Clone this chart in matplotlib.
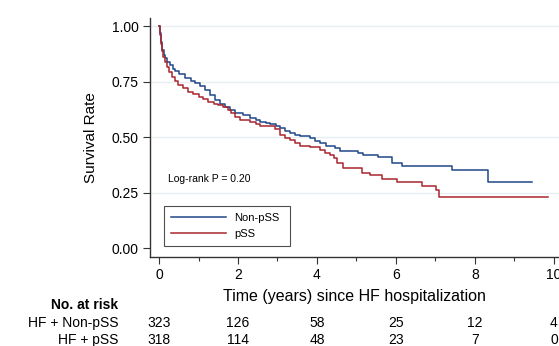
import matplotlib.pyplot as plt
from matplotlib.transforms import blended_transform_factory
from matplotlib.ticker import MultipleLocator

plt.rcParams['font.family'] = ['Liberation Sans', 'DejaVu Sans']

# Kaplan-Meier step data
t_non = [0, 0.025, 0.05, 0.08, 0.12, 0.15, 0.2, 0.28, 0.35, 0.405, 0.5, 0.66, 0.8, 0.91,
         1.05, 1.16, 1.3, 1.42, 1.55, 1.67, 1.8, 1.92, 2.13, 2.3, 2.45, 2.56, 2.7, 2.81,
         2.95, 3.06, 3.2, 3.32, 3.45, 3.57, 3.82, 3.95, 4.08, 4.24, 4.45, 4.58, 5.05, 5.17,
         5.55, 5.89, 6.14, 7.41, 8.34, 9.45]
s_non = [1.0, 0.97, 0.93, 0.894, 0.87, 0.856, 0.84, 0.826, 0.81, 0.80, 0.785, 0.766, 0.755, 0.746,
         0.73, 0.713, 0.69, 0.668, 0.65, 0.635, 0.623, 0.608, 0.60, 0.585, 0.578, 0.57, 0.563, 0.558,
         0.55, 0.54, 0.53, 0.52, 0.512, 0.506, 0.495, 0.485, 0.475, 0.462, 0.45, 0.44, 0.43, 0.42,
         0.41, 0.385, 0.37, 0.35, 0.30, 0.30]

t_pss = [0, 0.025, 0.05, 0.08, 0.11, 0.15, 0.19, 0.25, 0.32, 0.4, 0.49, 0.6, 0.74, 0.87,
         1.0, 1.12, 1.25, 1.38, 1.5, 1.62, 1.75, 1.83, 1.92, 2.05, 2.3, 2.45, 2.56, 2.94,
         3.06, 3.19, 3.32, 3.44, 3.57, 3.82, 4.08, 4.2, 4.33, 4.42, 4.5, 4.67, 5.13, 5.34,
         5.64, 6.02, 6.65, 7.01, 7.10, 9.84]
s_pss = [1.0, 0.96, 0.92, 0.89, 0.864, 0.84, 0.818, 0.795, 0.773, 0.755, 0.736, 0.72, 0.706, 0.694,
         0.683, 0.672, 0.66, 0.652, 0.646, 0.635, 0.623, 0.61, 0.593, 0.578, 0.57, 0.56, 0.551, 0.536,
         0.51, 0.495, 0.488, 0.473, 0.46, 0.457, 0.442, 0.43, 0.42, 0.405, 0.385, 0.36, 0.34, 0.33,
         0.31, 0.30, 0.28, 0.26, 0.229, 0.229]

risk_times = [0, 2, 4, 6, 8, 10]
risk_non = [323, 126, 58, 25, 12, 4]
risk_pss = [318, 114, 48, 23, 7, 0]

blue = '#1f4788'
red = '#a8262e'

fig = plt.figure(figsize=(5.59, 3.46), dpi=100)
ax = fig.add_axes([150 / 559, 1 - 257 / 346, 1 - 150 / 559, (257 - 18) / 346])

for y in [0.25, 0.5, 0.75, 1.0]:
    ax.axhline(y, color='#e6eef0', lw=1, zorder=0)

ax.plot(t_non, s_non, drawstyle='steps-post', color=blue, lw=1.1, label='Non-pSS')
ax.plot(t_pss, s_pss, drawstyle='steps-post', color=red, lw=1.1, label='pSS')

ax.set_xlim(-0.228, 10.127)
ax.set_ylim(-0.0406, 1.038)
ax.set_yticks([0, 0.25, 0.5, 0.75, 1.0])
ax.set_yticklabels(['0.00', '0.25', '0.50', '0.75', '1.00'])
ax.set_xticks(risk_times)
ax.xaxis.set_minor_locator(MultipleLocator(1))
ax.tick_params(axis='both', which='major', labelsize=10, length=5, width=0.8,
               color='#333333', pad=3)
ax.tick_params(axis='x', which='minor', length=3, width=0.8, color='#333333')

for side in ['top', 'right']:
    ax.spines[side].set_visible(False)
for side in ['left', 'bottom']:
    ax.spines[side].set_color('#333333')
    ax.spines[side].set_linewidth(1.0)

ax.set_ylabel('Survival Rate', fontsize=11, labelpad=10)
ax.set_xlabel('Time (years) since HF hospitalization', fontsize=11.5, labelpad=5)

ax.text(0.23, 0.31, 'Log-rank P = 0.20', fontsize=7.5, va='center', ha='left')

leg = ax.legend(loc='lower left', bbox_to_anchor=(0.034, 0.046, 0.308, 0.2),
                mode='expand', borderaxespad=0, fancybox=False, edgecolor='#222222',
                fontsize=8, handlelength=5, handletextpad=0.7, labelspacing=0.6,
                borderpad=0.6)
leg.get_frame().set_linewidth(0.8)

# number at risk table
tr = blended_transform_factory(ax.transData, fig.transFigure)
fig.text(118 / 559, 1 - 305 / 346, 'No. at risk', fontsize=10, fontweight='bold',
         ha='right', va='center')
fig.text(118 / 559, 1 - 323 / 346, 'HF + Non-pSS', fontsize=10, ha='right', va='center')
fig.text(118 / 559, 1 - 340 / 346, 'HF + pSS', fontsize=10, ha='right', va='center')
for t, a, b in zip(risk_times, risk_non, risk_pss):
    ax.text(t, 1 - 323 / 346, str(a), transform=tr, fontsize=10, ha='center', va='center',
            clip_on=False)
    ax.text(t, 1 - 340 / 346, str(b), transform=tr, fontsize=10, ha='center', va='center',
            clip_on=False)

fig.savefig('out.png', dpi=100)
